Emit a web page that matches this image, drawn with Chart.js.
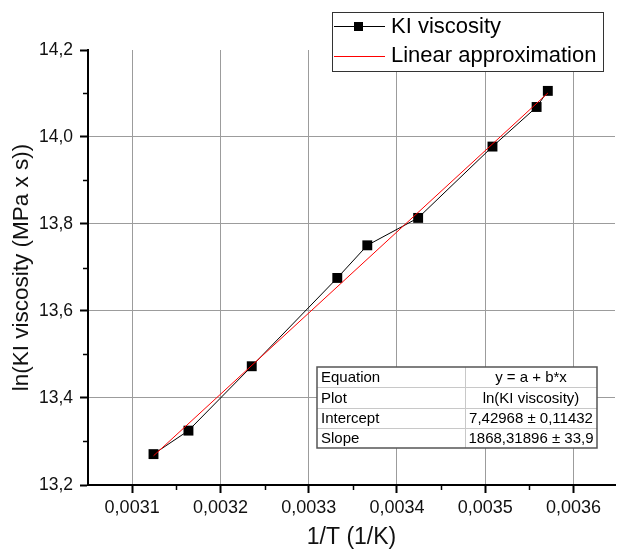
<!DOCTYPE html>
<html>
<head>
<meta charset="UTF-8">
<script src="https://cdn.jsdelivr.net/npm/chart.js"></script>
<style>
  body { margin: 0; background: #fff; }
  canvas { display: block; }
</style>
</head>
<body>
<canvas id="c" width="622" height="551"></canvas>
<script>
// measured points
const invT = [0.0031242, 0.0031638, 0.0032355, 0.0033324, 0.0033664, 0.003424, 0.0035082, 0.0035582, 0.0035709];
const lnVisc = [13.271, 13.325, 13.473, 13.676, 13.751, 13.814, 13.978, 14.069, 14.106];
// linear approximation end points
const fitX = [0.0031242, 0.0035709];
const fitY = [13.267, 14.101];
const xTicks = [0.0031, 0.0032, 0.0033, 0.0034, 0.0035, 0.0036];
const yTicks = [13.2, 13.4, 13.6, 13.8, 14.0, 14.2];
const xMinor = [0.00315, 0.00325, 0.00335, 0.00345, 0.00355];
const yMinor = [13.3, 13.5, 13.7, 13.9, 14.1];
const seriesNames = ['KI viscosity', 'Linear approximation'];
const tableRows = [
  ['Equation', 'y = a + b*x'],
  ['Plot', 'ln(KI viscosity)'],
  ['Intercept', '7,42968 ± 0,11432'],
  ['Slope', '1868,31896 ± 33,9']
];

const FONT = 'Arial, "Liberation Sans", sans-serif';

const extras = {
  id: 'extras',
  afterDraw(chart) {
    const ctx = chart.ctx;
    const xs = chart.scales.x, ys = chart.scales.y;
    const a = chart.chartArea;
    ctx.save();
    // minor ticks
    ctx.strokeStyle = '#000';
    ctx.lineWidth = 1.5;
    xMinor.forEach(v => {
      const px = Math.round(xs.getPixelForValue(v)) + 0.5;
      ctx.beginPath(); ctx.moveTo(px, a.bottom); ctx.lineTo(px, a.bottom + 5); ctx.stroke();
    });
    yMinor.forEach(v => {
      const py = Math.round(ys.getPixelForValue(v)) + 0.5;
      ctx.beginPath(); ctx.moveTo(a.left, py); ctx.lineTo(a.left - 5, py); ctx.stroke();
    });

    // legend box
    ctx.fillStyle = '#fff';
    ctx.fillRect(332, 12, 271, 59);
    ctx.strokeStyle = '#333';
    ctx.lineWidth = 1;
    ctx.strokeRect(332.5, 12.5, 271, 59);
    ctx.strokeStyle = '#000';
    ctx.beginPath(); ctx.moveTo(334, 26.5); ctx.lineTo(385, 26.5); ctx.stroke();
    ctx.fillStyle = '#000';
    ctx.fillRect(354, 22, 9, 9);
    ctx.strokeStyle = '#ff0000';
    ctx.beginPath(); ctx.moveTo(334, 56.5); ctx.lineTo(385, 56.5); ctx.stroke();
    ctx.fillStyle = '#000';
    ctx.font = '22px ' + FONT;
    ctx.textBaseline = 'middle';
    ctx.textAlign = 'left';
    ctx.fillText(seriesNames[0], 391, 27);
    ctx.fillText(seriesNames[1], 391, 56);

    // fit table
    const tx = 317, ty = 367, tw = 280, rh = 20.25, col = 465;
    ctx.fillStyle = '#fff';
    ctx.fillRect(tx, ty, tw, rh * 4);
    ctx.strokeStyle = '#c8c8c8';
    ctx.lineWidth = 1;
    for (let i = 1; i < 4; i++) {
      const yy = Math.round(ty + rh * i) + 0.5;
      ctx.beginPath(); ctx.moveTo(tx, yy); ctx.lineTo(tx + tw, yy); ctx.stroke();
    }
    ctx.beginPath(); ctx.moveTo(col + 0.5, ty); ctx.lineTo(col + 0.5, ty + rh * 4); ctx.stroke();
    ctx.strokeStyle = '#555';
    ctx.lineWidth = 1.5;
    ctx.strokeRect(tx, ty, tw, rh * 4);
    ctx.fillStyle = '#000';
    ctx.font = '15px ' + FONT;
    tableRows.forEach((r, i) => {
      const cy = ty + rh * i + rh / 2 + 1;
      ctx.textAlign = 'left';
      ctx.fillText(r[0], tx + 4, cy);
      ctx.textAlign = 'center';
      ctx.fillText(r[1], (col + tx + tw) / 2, cy);
    });
    ctx.restore();
  }
};

new Chart(document.getElementById('c'), {
  type: 'scatter',
  data: {
    datasets: [
      {
        label: seriesNames[1],
        data: fitX.map((x, i) => ({ x: x, y: fitY[i] })),
        showLine: true,
        borderColor: '#ff0000',
        borderWidth: 1,
        pointRadius: 0,
        order: 0
      },
      {
        label: seriesNames[0],
        data: invT.map((x, i) => ({ x: x, y: lnVisc[i] })),
        showLine: true,
        borderColor: '#000',
        borderWidth: 1,
        backgroundColor: '#000',
        pointStyle: 'rect',
        pointRadius: 7,
        pointBorderWidth: 0,
        order: 1
      }
    ]
  },
  options: {
    responsive: false,
    animation: false,
    devicePixelRatio: 1,
    layout: { padding: { top: 50, right: 1, left: 0, bottom: 0 } },
    plugins: { legend: { display: false }, tooltip: { enabled: false } },
    scales: {
      x: {
        type: 'linear',
        min: 0.00305,
        max: 0.003647,
        afterBuildTicks: s => { s.ticks = xTicks.map(v => ({ value: v })); },
        afterFit: s => { s.height = 66; },
        border: { color: '#000', width: 2 },
        grid: { color: '#9c9c9c', lineWidth: 1, tickColor: '#000', tickLength: 8, tickWidth: 2 },
        ticks: {
          color: '#111',
          font: { family: FONT, size: 18 },
          padding: 4,
          maxRotation: 0,
          callback: v => v.toFixed(4).replace('.', ',')
        },
        title: {
          display: true,
          text: '1/T (1/K)',
          color: '#111',
          font: { family: FONT, size: 23 },
          padding: { top: 0, bottom: 0 }
        }
      },
      y: {
        min: 13.2,
        max: 14.2,
        afterBuildTicks: s => { s.ticks = yTicks.map(v => ({ value: v })); },
        afterFit: s => { s.width = 88; },
        border: { color: '#000', width: 2 },
        grid: {
          color: c => (c.tick && c.tick.value >= 14.19) ? 'rgba(0,0,0,0)' : '#9c9c9c',
          lineWidth: 1, tickColor: '#000', tickLength: 8, tickWidth: 2
        },
        ticks: {
          color: '#111',
          font: { family: FONT, size: 17.5 },
          padding: 7,
          callback: v => v.toFixed(1).replace('.', ',')
        },
        title: {
          display: true,
          text: 'ln(KI viscosity (MPa x s))',
          color: '#111',
          font: { family: FONT, size: 22.5 },
          padding: { top: 8, bottom: 0 }
        }
      }
    }
  },
  plugins: [extras]
});
</script>
</body>
</html>
